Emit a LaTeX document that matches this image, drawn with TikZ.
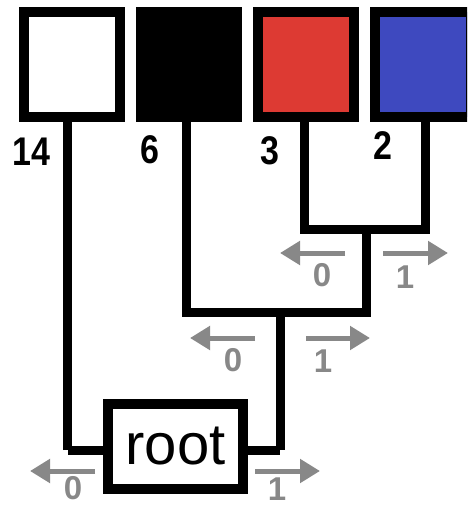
\documentclass[tikz,border=0pt]{standalone}
\usepackage{fontspec}
\setmainfont{Liberation Sans}
\usetikzlibrary{arrows.meta}
\definecolor{leafred}{RGB}{221,58,51}
\definecolor{leafblue}{RGB}{62,73,191}
\definecolor{bitgray}{RGB}{136,136,136}
\tikzset{
  wire/.style={line width=9pt, line join=miter},
  leafbox/.style={draw, line width=10pt, minimum width=96pt, minimum height=105pt, inner sep=0pt},
  leaflabel/.style={inner sep=0pt, font=\bfseries\fontsize{40}{40}\selectfont, xscale=0.85},
  bit/.style={draw=bitgray, line width=5pt, -{Triangle[length=20pt,width=23pt]}},
  bitlabel/.style={inner sep=0pt, text=bitgray, font=\bfseries\fontsize{33}{33}\selectfont},
  rootbox/.style={draw, fill=white, line width=10pt, minimum width=135pt, minimum height=85pt, inner sep=0pt, font=\fontsize{58}{58}\selectfont}
}
\begin{document}
\begin{tikzpicture}[x=1pt,y=-1pt]
\clip (0,0) rectangle (467,506);
\fill[white] (0,0) rectangle (467,506);

% junction points of the tree
\coordinate (j32) at (366,229);
\coordinate (j6) at (280,312);
\coordinate (jl) at (67.5,450);
\coordinate (jr) at (280,450);
\coordinate (s1) at (67.5,117);
\coordinate (s2) at (186,117);
\coordinate (s3) at (304.5,117);
\coordinate (s4) at (425,117);

% branches
\draw[wire] (s3) |- (j32) -| (s4);
\draw[wire] (s2) |- (j6) -| (j32);
\draw[wire] (jl) -- (s1);
\draw[wire] (jr) -- (j6);

% leaves
\node[leafbox, fill=white] (b1) at (72,64.5) {};
\node[leafbox, fill=black] (b2) at (189,64.5) {};
\node[leafbox, fill=leafred] (b3) at (306,64.5) {};
\node[leafbox, fill=leafblue] (b4) at (423,64.5) {};

\node[leaflabel] (l1) at (31.5,151.5) {14};
\node[leaflabel] (l2) at (149.5,150) {6};
\node[leaflabel] (l3) at (270,151) {3};
\node[leaflabel] (l4) at (383,146) {2};

% root and its links
\node[rootbox] (root) at (175.5,446.5) {root};
\draw[wire] (root.west |- jl) -- (jl);
\draw[wire] (root.east |- jr) -- (jr);
\node[rootbox] at (root.center) {root};

% bit arrows
\coordinate (a1s) at (345,253); \coordinate (a1e) at (280,253);
\coordinate (a2s) at (383,253); \coordinate (a2e) at (448,253);
\coordinate (a3s) at (255,338); \coordinate (a3e) at (190,338);
\coordinate (a4s) at (306,338); \coordinate (a4e) at (370,338);
\coordinate (a5s) at (95,471);  \coordinate (a5e) at (30,471);
\coordinate (a6s) at (255,471); \coordinate (a6e) at (320,471);
\draw[bit] (a1s) -- (a1e);
\draw[bit] (a2s) -- (a2e);
\draw[bit] (a3s) -- (a3e);
\draw[bit] (a4s) -- (a4e);
\draw[bit] (a5s) -- (a5e);
\draw[bit] (a6s) -- (a6e);

\node[bitlabel] (n1) at (322,275) {0};
\node[bitlabel] (n2) at (405,277) {1};
\node[bitlabel] (n3) at (233,360) {0};
\node[bitlabel] (n4) at (323,361) {1};
\node[bitlabel] (n5) at (73,488) {0};
\node[bitlabel] (n6) at (277,489) {1};
\end{tikzpicture}
\end{document}
